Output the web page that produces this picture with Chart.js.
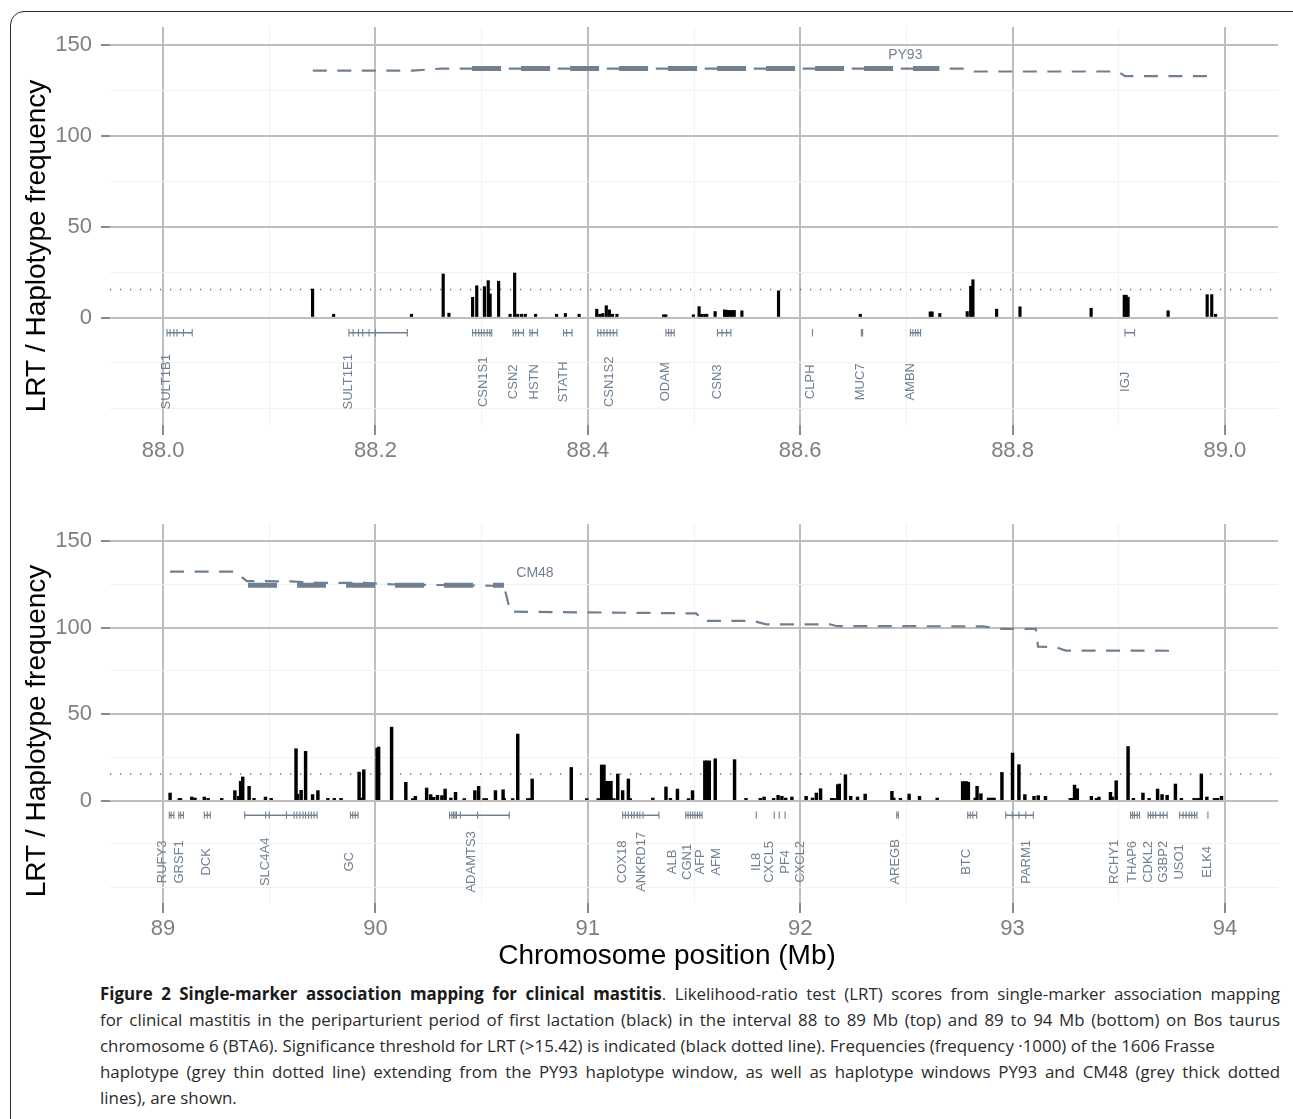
<!DOCTYPE html>
<html>
<head>
<meta charset="utf-8">
<title>Single-marker association mapping for clinical mastitis</title>
<script src="https://cdn.jsdelivr.net/npm/chart.js@4.4.1/dist/chart.umd.min.js"></script>
<style>
  body { margin: 0; background: #fff; }
  #page { position: relative; width: 1293px; height: 1119px; overflow: hidden; background: #fff; }
  #frame { position: absolute; left: 10px; top: 11px; width: 1320px; height: 1200px;
           border: 1px solid #2a2a2a; border-radius: 14px; }
  canvas { position: absolute; left: 0; }
  #xtitle { position: absolute; left: 417px; width: 500px; top: 939px; text-align: center;
            font: 28px/32px 'Liberation Sans', Arial, sans-serif; color: #000; }
  #caption { position: absolute; left: 100px; top: 981px; width: 1180px;
             font-family: 'Open Sans', sans-serif; font-size: 16.9px; line-height: 26px; color: #2b2b2b; }
  #caption div { white-space: nowrap; }
  #caption .j { text-align: justify; text-align-last: justify; }
  #caption b { color: #1a1a1a; }
</style>
</head>
<body>
<div id="page">
  <div id="frame"></div>
  <canvas id="topChart" width="1293" height="470" style="top:0px"></canvas>
  <canvas id="bottomChart" width="1293" height="470" style="top:480px"></canvas>
  <div id="xtitle">Chromosome position (Mb)</div>
  <div id="caption">
    <div class="j"><b>Figure 2 Single-marker association mapping for clinical mastitis</b>. Likelihood-ratio test (LRT) scores from single-marker association mapping</div>
    <div class="j">for clinical mastitis in the periparturient period of first lactation (black) in the interval 88 to 89 Mb (top) and 89 to 94 Mb (bottom) on Bos taurus</div>
    <div>chromosome 6 (BTA6). Significance threshold for LRT (&gt;15.42) is indicated (black dotted line). Frequencies (frequency ·1000) of the 1606 Frasse</div>
    <div class="j">haplotype (grey thin dotted line) extending from the PY93 haplotype window, as well as haplotype windows PY93 and CM48 (grey thick dotted</div>
    <div>lines), are shown.</div>
  </div>
</div>
<script>
// ---- axes ----
const xRangeTop = [87.95, 89.05];
const xRangeBottom = [88.75, 94.25];
const yRange = [-59.2, 160];
const yMajor = [0, 50, 100, 150];
const yMinor = [-50, -25, 25, 75, 125];
const xMajorTop = [88.0, 88.2, 88.4, 88.6, 88.8, 89.0];
const xLabelsTop = ['88.0', '88.2', '88.4', '88.6', '88.8', '89.0'];
const xMinorTop = [88.1, 88.3, 88.5, 88.7, 88.9];
const xMajorBottom = [89, 90, 91, 92, 93, 94];
const xLabelsBottom = ['89', '90', '91', '92', '93', '94'];
const xMinorBottom = [89.5, 90.5, 91.5, 92.5, 93.5];
const lrtThreshold = 15.42;

// ---- LRT scores, 88-89 Mb ----
const lrtPosTop = [88.1408, 88.1606, 88.2339, 88.2638, 88.2692, 88.2915, 88.2954, 88.3026, 88.3062, 88.3080,
  88.3160, 88.3268, 88.3311, 88.3340, 88.3376, 88.3411, 88.3508, 88.3706, 88.3789, 88.3918,
  88.4084, 88.4113, 88.4141, 88.4174, 88.4203, 88.4232, 88.4274, 88.4714, 88.4735, 88.4994,
  88.5048, 88.5074, 88.5102, 88.5120, 88.5199, 88.5288, 88.5307, 88.5329, 88.5354, 88.5379,
  88.5451, 88.5796, 88.6566, 88.7225, 88.7242, 88.7315, 88.7573, 88.7606, 88.7627, 88.7850,
  88.8070, 88.8740, 88.9052, 88.9070, 88.9088, 88.9465, 88.9833, 88.9876, 88.9912];
const lrtTop = [15.7, 1.8, 1.8, 24.0, 2.4, 11.1, 17.5, 17.0, 20.3, 13.0,
  20.0, 1.8, 24.5, 1.8, 1.8, 1.8, 1.8, 1.8, 2.2, 1.8,
  4.6, 1.8, 2.2, 6.5, 4.2, 1.8, 1.8, 1.5, 1.5, 1.5,
  6.0, 1.8, 1.8, 1.8, 3.3, 4.2, 4.0, 3.9, 3.9, 3.9,
  3.7, 14.7, 1.8, 3.1, 3.1, 2.2, 3.3, 17.2, 20.8, 4.6,
  5.9, 5.1, 12.3, 12.3, 11.2, 3.7, 12.6, 12.6, 1.8];

// ---- LRT scores, 89-94 Mb ----
const lrtPosBottom = [89.033, 89.076, 89.082, 89.135, 89.150, 89.194, 89.212, 89.276, 89.338, 89.356,
  89.365, 89.375, 89.405, 89.428, 89.482, 89.509, 89.626, 89.633, 89.650, 89.671,
  89.704, 89.729, 89.776, 89.806, 89.838, 89.923, 89.932, 89.945, 90.008, 90.015,
  90.076, 90.143, 90.176, 90.188, 90.241, 90.260, 90.274, 90.292, 90.313, 90.328,
  90.355, 90.377, 90.418, 90.468, 90.486, 90.511, 90.522, 90.565, 90.601, 90.606,
  90.646, 90.670, 90.717, 90.727, 90.738, 90.922, 90.995, 91.049, 91.065, 91.076,
  91.089, 91.098, 91.109, 91.123, 91.141, 91.164, 91.191, 91.200, 91.306, 91.368,
  91.389, 91.422, 91.474, 91.493, 91.551, 91.560, 91.572, 91.600, 91.691, 91.745,
  91.812, 91.830, 91.875, 91.896, 91.914, 91.932, 91.961, 92.028, 92.058, 92.076,
  92.096, 92.148, 92.160, 92.177, 92.184, 92.213, 92.238, 92.270, 92.306, 92.432,
  92.441, 92.472, 92.513, 92.562, 92.645, 92.765, 92.774, 92.783, 92.792, 92.824,
  92.833, 92.851, 92.887, 92.900, 92.913, 92.950, 93.000, 93.030, 93.058, 93.101,
  93.121, 93.155, 93.272, 93.281, 93.292, 93.305, 93.371, 93.395, 93.407, 93.461,
  93.470, 93.488, 93.544, 93.569, 93.614, 93.643, 93.683, 93.704, 93.728, 93.767,
  93.795, 93.855, 93.870, 93.882, 93.889, 93.915, 93.951, 93.966, 93.984];
const lrtBottom = [4.4, 1.2, 1.2, 2.1, 1.5, 2.1, 1.3, 1.3, 5.8, 2.5,
  11.2, 13.7, 8.3, 1.3, 2.1, 1.3, 30.0, 3.7, 6.0, 28.5,
  3.5, 5.8, 1.3, 1.3, 1.3, 16.5, 1.5, 17.9, 30.4, 31.0,
  42.5, 10.6, 1.2, 2.5, 7.3, 3.5, 1.9, 3.1, 2.9, 6.7,
  1.5, 4.8, 1.2, 5.8, 8.3, 1.2, 1.2, 5.8, 6.3, 1.3,
  1.2, 38.5, 1.2, 1.2, 12.5, 19.2, 1.2, 1.2, 20.6, 20.6,
  11.2, 11.2, 11.2, 1.2, 15.4, 5.8, 12.5, 1.2, 1.5, 7.9,
  1.3, 6.7, 1.2, 5.8, 23.0, 23.0, 23.0, 24.2, 23.7, 1.3,
  1.3, 2.1, 1.3, 3.1, 2.5, 1.5, 2.1, 2.5, 1.5, 4.4,
  6.9, 1.3, 1.3, 9.2, 9.6, 15.0, 2.5, 2.1, 3.8, 5.4,
  1.5, 1.3, 3.8, 2.5, 1.5, 11.0, 11.0, 11.0, 10.6, 1.5,
  8.3, 4.0, 1.5, 1.5, 1.5, 16.3, 27.5, 20.8, 3.5, 2.5,
  2.9, 2.5, 1.3, 1.3, 9.0, 6.9, 2.5, 1.3, 2.1, 4.8,
  2.1, 11.5, 31.3, 1.3, 4.4, 1.3, 6.7, 3.5, 3.1, 9.6,
  1.3, 1.3, 1.3, 1.3, 15.4, 2.1, 1.3, 1.3, 2.5];

// ---- haplotype frequency (x1000) and haplotype windows ----
const hapPosTop = [88.141, 88.235, 88.262, 88.755, 88.764, 88.899, 88.906, 88.990];
const hapFreqTop = [136.0, 136.0, 137.1, 137.1, 135.5, 135.5, 132.9, 132.9];
const windowPosTop = [88.291, 88.731];
const windowFreqTop = [137.1, 137.1];
const windowLabelTop = ['PY93', 88.699, 144.7];

const hapPosBottom = [89.033, 89.335, 89.395, 89.60, 89.73, 89.95, 90.10, 90.55, 90.605, 90.635,
  91.51, 91.545, 91.78, 91.84, 92.14, 92.17, 92.86, 92.95, 93.11, 93.12,
  93.20, 93.25, 93.763];
const hapFreqBottom = [132.5, 132.5, 127.0, 126.8, 126.0, 125.9, 125.0, 124.3, 124.3, 109.3,
  108.3, 104.0, 103.9, 102.0, 102.0, 101.0, 100.8, 99.4, 99.4, 89.0,
  88.9, 86.8, 86.7];
const windowPosBottom = [89.40, 90.605];
const windowFreqBottom = [124.6, 124.6];
const windowLabelBottom = ['CM48', 90.751, 131.6];

// ---- genes ----
const geneNamesTop = ['SULT1B1', 'SULT1E1', 'CSN1S1', 'CSN2', 'HSTN', 'STATH', 'CSN1S2', 'ODAM', 'CSN3', 'CLPH', 'MUC7', 'AMBN', 'IGJ'];
const geneLabelPosTop = [88.003, 88.175, 88.3015, 88.3303, 88.3501, 88.377, 88.4203, 88.4735, 88.5217, 88.6101, 88.6566, 88.7038, 88.9059];
const geneStartTop = [88.0037, 88.175, 88.2915, 88.3296, 88.3454, 88.3771, 88.4094, 88.4735, 88.5221, 88.6116, 88.6576, 88.7038, 88.9059];
const geneEndTop = [88.0274, 88.230, 88.3095, 88.3394, 88.3526, 88.3851, 88.4274, 88.4814, 88.5347, 88.6116, 88.6588, 88.7134, 88.9149];
const exonPosTop = [88.0037, 88.0066, 88.0101, 88.0131, 88.0192, 88.0274,
  88.175, 88.179, 88.184, 88.188, 88.194, 88.200, 88.230,
  88.2915, 88.2944, 88.2973, 88.2998, 88.3023, 88.3052, 88.3077, 88.3095,
  88.3296, 88.3321, 88.3347, 88.3394, 88.3454, 88.3476, 88.3526, 88.3771, 88.3800, 88.3851,
  88.4094, 88.4123, 88.4152, 88.4181, 88.4210, 88.4239, 88.4274,
  88.4735, 88.4761, 88.4785, 88.4814, 88.5221, 88.5264, 88.5307, 88.5347,
  88.6116, 88.6576, 88.6588, 88.7038, 88.7062, 88.7087, 88.7109, 88.7134, 88.9059, 88.9149];

const geneNamesBottom = ['RUFY3', 'GRSF1', 'DCK', 'SLC4A4', 'GC', 'ADAMTS3', 'COX18', 'ANKRD17', 'ALB', 'CGN1', 'AFP', 'AFM',
  'IL8', 'CXCL5', 'PF4', 'CXCL2', 'AREGB', 'BTC', 'PARM1', 'RCHY1', 'THAP6', 'CDKL2', 'G3BP2', 'USO1', 'ELK4'];
const geneLabelPosBottom = [88.997, 89.078, 89.204, 89.483, 89.878, 90.454, 91.164, 91.254, 91.398, 91.470, 91.529, 91.605,
  91.793, 91.857, 91.929, 92.000, 92.450, 92.783, 93.065, 93.479, 93.565, 93.638, 93.709, 93.785, 93.916];
const geneStartBottom = [89.029, 89.074, 89.194, 89.384, 89.882, 90.349, 91.164, 91.461, 91.793, 91.878, 91.901, 91.929,
  92.455, 92.789, 92.968, 93.556, 93.638, 93.787, 93.920];
const geneEndBottom = [89.051, 89.096, 89.222, 89.725, 89.918, 90.630, 91.335, 91.538, 91.793, 91.878, 91.901, 91.929,
  92.462, 92.831, 93.098, 93.598, 93.728, 93.868, 93.920];
const exonPosBottom = [89.029, 89.038, 89.051, 89.074, 89.083, 89.096, 89.194, 89.208, 89.222,
  89.384, 89.483, 89.500, 89.581, 89.617, 89.630, 89.644, 89.659, 89.671, 89.685, 89.698, 89.711, 89.725,
  89.882, 89.893, 89.905, 89.918, 90.349, 90.360, 90.368, 90.375, 90.382, 90.400, 90.481, 90.630,
  91.164, 91.177, 91.191, 91.206, 91.218, 91.233, 91.245, 91.260, 91.335,
  91.461, 91.472, 91.483, 91.494, 91.505, 91.516, 91.527, 91.538,
  91.793, 91.878, 91.901, 91.929, 92.455, 92.462, 92.789, 92.801, 92.813, 92.831,
  92.968, 92.999, 93.030, 93.062, 93.098, 93.556, 93.565, 93.574, 93.587, 93.598,
  93.638, 93.650, 93.661, 93.674, 93.695, 93.710, 93.728,
  93.787, 93.803, 93.817, 93.832, 93.844, 93.857, 93.868, 93.920];

const GENE_TRACK_Y = -8.4;
const GENE_LABEL_Y = -35.4;
const SLATE = '#708090';
const FONT = "'Liberation Sans', Arial, Helvetica, sans-serif";

Chart.defaults.font.family = FONT;

function near(list, v) {
    return list.some(m => Math.abs(m - v) < 1e-6);
}

const panelText = {
    id: 'panelText',
    afterDatasetsDraw(chart, args, opts) {
        const ctx = chart.ctx;
        const x = chart.scales.x;
        const y = chart.scales.y;
        ctx.save();
        ctx.fillStyle = SLATE;
        ctx.textAlign = 'center';
        ctx.textBaseline = 'middle';
        ctx.font = '13px ' + FONT;
        opts.genes.forEach((name, i) => {
            ctx.save();
            ctx.translate(x.getPixelForValue(opts.geneX[i]), y.getPixelForValue(GENE_LABEL_Y));
            ctx.rotate(-Math.PI / 2);
            ctx.fillText(name, 0, 0);
            ctx.restore();
        });
        // haplotype window name
        ctx.font = '14px ' + FONT;
        const w = opts.windowLabel;
        ctx.fillText(w[0], x.getPixelForValue(w[1]), y.getPixelForValue(w[2]));
        // y axis title
        ctx.fillStyle = '#000';
        ctx.font = '28px ' + FONT;
        ctx.translate(37, opts.titleY);
        ctx.rotate(-Math.PI / 2);
        ctx.fillText('LRT / Haplotype frequency', 0, 0);
        ctx.restore();
    }
};

function buildPanel(canvasId, p) {
    const ctx = document.getElementById(canvasId).getContext('2d');
    const xTicks = p.xMajor.concat(p.xMinor).sort((a, b) => a - b);
    const yTicks = yMajor.concat(yMinor).sort((a, b) => a - b);

    const spans = [];
    p.geneStart.forEach((s, i) => {
        spans.push({ x: s, y: GENE_TRACK_Y }, { x: p.geneEnd[i], y: GENE_TRACK_Y }, { x: p.geneEnd[i], y: null });
    });

    new Chart(ctx, {
        type: 'bar',
        data: {
            datasets: [
                {
                    type: 'bar',
                    data: p.lrtPos.map((v, i) => ({ x: v, y: p.lrt[i] })),
                    backgroundColor: '#000',
                    borderWidth: 0,
                    barThickness: p.barWidth,
                    grouped: false,
                    order: 5
                },
                {
                    type: 'line',
                    data: [{ x: p.xRange[0], y: lrtThreshold }, { x: p.xRange[1], y: lrtThreshold }],
                    borderColor: 'rgba(0,0,0,0.55)',
                    borderWidth: 1.3,
                    borderDash: [1.3, 8.7],
                    pointRadius: 0,
                    order: 4
                },
                {
                    type: 'line',
                    data: spans,
                    borderColor: SLATE,
                    borderWidth: 1.5,
                    spanGaps: false,
                    pointRadius: 0,
                    order: 3
                },
                {
                    type: 'line',
                    data: p.exonPos.map(v => ({ x: v, y: GENE_TRACK_Y })),
                    showLine: false,
                    pointStyle: 'line',
                    pointRotation: 90,
                    pointRadius: 3.7,
                    pointBorderWidth: 1.1,
                    pointBorderColor: SLATE,
                    pointBackgroundColor: SLATE,
                    order: 3
                },
                {
                    type: 'line',
                    data: p.hapPos.map((v, i) => ({ x: v, y: p.hapFreq[i] })),
                    borderColor: SLATE,
                    borderWidth: 2.2,
                    borderDash: [14, 10.5],
                    tension: 0,
                    pointRadius: 0,
                    order: 2
                },
                {
                    type: 'line',
                    data: p.windowPos.map((v, i) => ({ x: v, y: p.windowFreq[i] })),
                    borderColor: SLATE,
                    borderWidth: 5,
                    borderDash: [29, 20],
                    pointRadius: 0,
                    order: 1
                }
            ]
        },
        options: {
            responsive: false,
            animation: false,
            devicePixelRatio: 1,
            layout: { padding: { top: p.padTop, right: 15, left: 0, bottom: 0 } },
            scales: {
                x: {
                    type: 'linear',
                    min: p.xRange[0],
                    max: p.xRange[1],
                    offset: false,
                    afterBuildTicks: s => { s.ticks = xTicks.map(v => ({ value: v })); },
                    afterFit: s => { s.height = p.xAxisHeight; },
                    border: { display: false },
                    grid: {
                        offset: false,
                        color: c => near(p.xMajor, c.tick.value) ? '#bebebe' : '#f1f1f1',
                        lineWidth: c => near(p.xMajor, c.tick.value) ? 2 : 1,
                        tickColor: c => near(p.xMajor, c.tick.value) ? '#8a8a8a' : 'rgba(0,0,0,0)',
                        tickWidth: 2,
                        tickLength: 10
                    },
                    ticks: {
                        autoSkip: false,
                        maxRotation: 0,
                        padding: 3,
                        color: '#7f7f7f',
                        font: { size: 22 },
                        callback: v => {
                            const i = p.xMajor.findIndex(m => Math.abs(m - v) < 1e-6);
                            return i >= 0 ? p.xLabels[i] : '';
                        }
                    }
                },
                y: {
                    type: 'linear',
                    min: yRange[0],
                    max: yRange[1],
                    afterBuildTicks: s => { s.ticks = yTicks.map(v => ({ value: v })); },
                    afterFit: s => { s.width = 110; },
                    border: { display: false },
                    grid: {
                        color: c => near(yMajor, c.tick.value) ? '#bebebe' : '#f1f1f1',
                        lineWidth: c => near(yMajor, c.tick.value) ? 2 : 1,
                        tickColor: c => near(yMajor, c.tick.value) ? '#8a8a8a' : 'rgba(0,0,0,0)',
                        tickWidth: 2,
                        tickLength: 9
                    },
                    ticks: {
                        autoSkip: false,
                        padding: 9,
                        color: '#7f7f7f',
                        font: { size: 22 },
                        callback: v => near(yMajor, v) ? String(v) : ''
                    }
                }
            },
            plugins: {
                legend: { display: false },
                tooltip: { enabled: false },
                panelText: {
                    genes: p.geneNames,
                    geneX: p.geneLabelPos,
                    windowLabel: p.windowLabel,
                    titleY: p.titleY
                }
            }
        },
        plugins: [panelText]
    });
}

buildPanel('topChart', {
    xRange: xRangeTop, xMajor: xMajorTop, xMinor: xMinorTop, xLabels: xLabelsTop,
    lrtPos: lrtPosTop, lrt: lrtTop, barWidth: 2.5,
    hapPos: hapPosTop, hapFreq: hapFreqTop,
    windowPos: windowPosTop, windowFreq: windowFreqTop, windowLabel: windowLabelTop,
    geneNames: geneNamesTop, geneLabelPos: geneLabelPosTop,
    geneStart: geneStartTop, geneEnd: geneEndTop, exonPos: exonPosTop,
    padTop: 27, xAxisHeight: 45, titleY: 246
});

buildPanel('bottomChart', {
    xRange: xRangeBottom, xMajor: xMajorBottom, xMinor: xMinorBottom, xLabels: xLabelsBottom,
    lrtPos: lrtPosBottom, lrt: lrtBottom, barWidth: 2.8,
    hapPos: hapPosBottom, hapFreq: hapFreqBottom,
    windowPos: windowPosBottom, windowFreq: windowFreqBottom, windowLabel: windowLabelBottom,
    geneNames: geneNamesBottom, geneLabelPos: geneLabelPosBottom,
    geneStart: geneStartBottom, geneEnd: geneEndBottom, exonPos: exonPosBottom,
    padTop: 44, xAxisHeight: 47, titleY: 251
});
</script>
</body>
</html>
